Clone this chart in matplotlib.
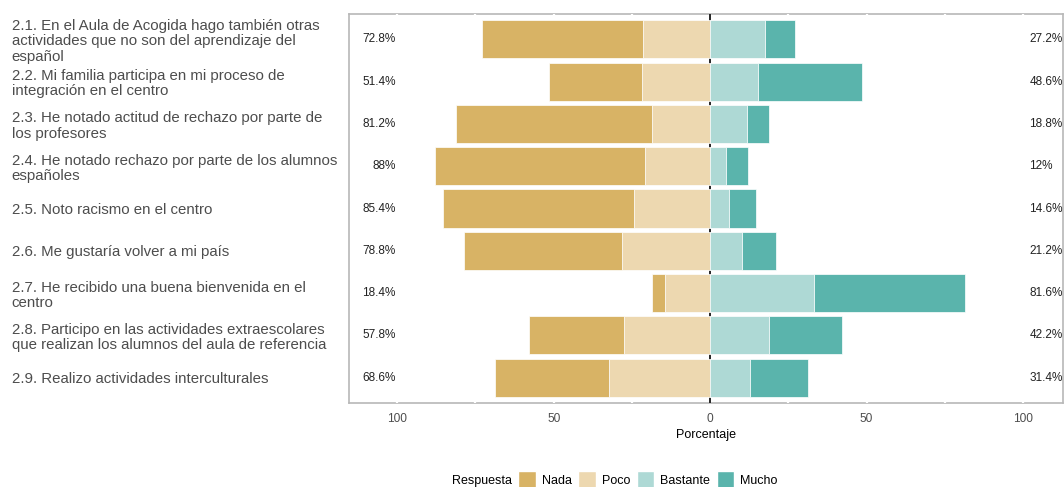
import numpy as np
import matplotlib
matplotlib.use('Agg')
import matplotlib.pyplot as plt
from matplotlib.patches import Patch

plt.rcParams['font.family'] = ['Liberation Sans', 'DejaVu Sans']

'''
    Data (percent of answers per item)
'''
items = ['2.1. En el Aula de Acogida hago también otras\nactividades que no son del aprendizaje del\nespañol',
         '2.2. Mi familia participa en mi proceso de\nintegración en el centro',
         '2.3. He notado actitud de rechazo por parte de\nlos profesores',
         '2.4. He notado rechazo por parte de los alumnos\nespañoles',
         '2.5. Noto racismo en el centro',
         '2.6. Me gustaría volver a mi país',
         '2.7. He recibido una buena bienvenida en el\ncentro',
         '2.8. Participo en las actividades extraescolares\nque realizan los alumnos del aula de referencia',
         '2.9. Realizo actividades interculturales']
nada = [51.4, 29.6, 62.6, 67.2, 61.2, 50.6, 4.0, 30.2, 36.4]
poco = [21.4, 21.8, 18.6, 20.8, 24.2, 28.2, 14.4, 27.6, 32.2]
bastante = [17.6, 15.4, 11.8, 5.0, 6.0, 10.2, 33.2, 18.8, 12.8]
mucho = [9.6, 33.2, 7.0, 7.0, 8.6, 11.0, 48.4, 23.4, 18.6]
respuestas = ['Nada', 'Poco', 'Bastante', 'Mucho']
colores = ['#D8B365', '#EDD8B0', '#AED9D5', '#5AB4AC']
xticks = [-100, -50, 0, 50, 100]

nada = np.array(nada)
poco = np.array(poco)
bastante = np.array(bastante)
mucho = np.array(mucho)
y = np.arange(len(items))
neg = nada + poco
pos = bastante + mucho

fig = plt.figure(figsize=(10.64, 4.87), dpi=100)
ax = fig.add_axes([349/1064, 1-403/487, 714/1064, 389/487])

ax.barh(y, -poco, height=0.9, color=colores[1], edgecolor='white', linewidth=0.5, zorder=3)
ax.barh(y, -nada, left=-poco, height=0.9, color=colores[0], edgecolor='white', linewidth=0.5, zorder=3)
ax.barh(y, bastante, height=0.9, color=colores[2], edgecolor='white', linewidth=0.5, zorder=3)
ax.barh(y, mucho, left=bastante, height=0.9, color=colores[3], edgecolor='white', linewidth=0.5, zorder=3)
ax.axvline(0, color='black', lw=1.2, zorder=2.5)

for i in range(len(items)):
    ax.text(-100.5, y[i], '%g%%' % round(neg[i], 1), ha='right', va='center',
            fontsize=8.5, color='#222222')
    ax.text(102, y[i], '%g%%' % round(pos[i], 1), ha='left', va='center',
            fontsize=8.5, color='#222222')

# white grid lines only show where they cross the panel border
for g in np.arange(-100, 101, 25):
    ax.axvline(g, color='white', lw=1.6, zorder=1.5)
for s in ax.spines.values():
    s.set_color('#B8B8B8')
    s.set_linewidth(1.2)
    s.set_zorder(1)

ax.set_xlim(-115.4, 112.8)
ax.set_ylim(len(items) - 0.4, -0.6)
ax.set_xticks(xticks)
ax.set_xticklabels([str(abs(v)) for v in xticks], fontsize=8.6, color='#4D4D4D')
ax.set_yticks(y)
ax.set_yticklabels(items, ha='left', fontsize=10.8, color='#4D4D4D', linespacing=1.1)
ax.tick_params(axis='y', length=0, pad=243)
ax.tick_params(axis='x', length=0, pad=7)
ax.set_xlabel('Porcentaje', fontsize=9, color='black', labelpad=3)

handles = [Patch(facecolor=c, edgecolor='white', label=r) for c, r in zip(colores, respuestas)]
fig.legend(handles=handles, ncol=4, loc='center', bbox_to_anchor=(0.609, 0.014), frameon=False,
           prop={'size': 9}, handlelength=1.4, handleheight=1.9,
           handletextpad=0.5, columnspacing=0.5, borderaxespad=0)
fig.text(512/1064, 0.013, 'Respuesta', ha='right', va='center', fontsize=9)

fig.savefig('out.png', dpi=100)
